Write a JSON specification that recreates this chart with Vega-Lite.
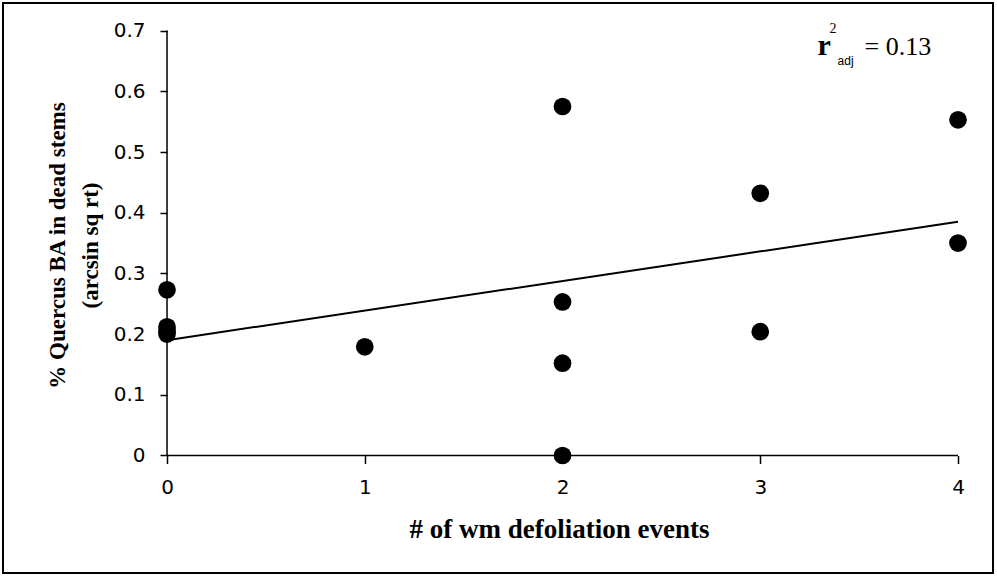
{
  "$schema": "https://vega.github.io/schema/vega-lite/v6.json",
  "width": 990,
  "height": 570,
  "padding": 3,
  "autosize": {"type": "none"},
  "background": "white",
  "config": {
    "view": {"stroke": "black", "strokeWidth": 2},
    "axis": {"grid": false, "domain": false, "tickColor": "black", "tickWidth": 1.5, "labelColor": "black", "titleColor": "black", "labelOverlap": false, "labelFlush": false}
  },
  "datasets": {
    "plots": [
      {"events": 0, "value": 0.273},
      {"events": 0, "value": 0.212},
      {"events": 0, "value": 0.205},
      {"events": 0, "value": 0.2},
      {"events": 1, "value": 0.179},
      {"events": 2, "value": 0.575},
      {"events": 2, "value": 0.253},
      {"events": 2, "value": 0.152},
      {"events": 2, "value": 0.0},
      {"events": 3, "value": 0.432},
      {"events": 3, "value": 0.204},
      {"events": 4, "value": 0.553},
      {"events": 4, "value": 0.35}
    ],
    "fit": [
      {"events": 0, "value": 0.19},
      {"events": 4, "value": 0.385}
    ],
    "axes": [
      {"events": 0, "events_end": 4, "value": 0, "value_end": 0},
      {"events": 0, "events_end": 0, "value": 0, "value_end": 0.7}
    ],
    "note": [
      {"events": 3.3, "value": 0.66, "r2": "= 0.13"}
    ]
  },
  "encoding": {
    "x": {
      "field": "events",
      "type": "quantitative",
      "scale": {"domain": [-0.8295, 4.177], "nice": false, "zero": false},
      "axis": {
        "title": "# of wm defoliation events",
        "values": [0, 1, 2, 3, 4],
        "format": "d",
        "offset": -117.5,
        "tickSize": 8,
        "labelFont": "DejaVu Sans",
        "labelFontSize": 20,
        "labelPadding": 14,
        "titleFont": "Liberation Serif",
        "titleFontSize": 27,
        "titleFontWeight": "bold",
        "titleX": 556,
        "titleY": 81.5,
        "titleAlign": "center",
        "titleBaseline": "alphabetic"
      }
    },
    "y": {
      "field": "value",
      "type": "quantitative",
      "scale": {"domain": [-0.1936, 0.7455], "nice": false, "zero": false},
      "axis": {
        "title": ["% Quercus BA in dead stems", "(arcsin sq rt)"],
        "values": [0, 0.1, 0.2, 0.3, 0.4, 0.5, 0.6, 0.7],
        "format": ".1~f",
        "offset": -164,
        "tickSize": 7,
        "labelFont": "DejaVu Sans",
        "labelFontSize": 20,
        "labelPadding": 15,
        "titleFont": "Liberation Serif",
        "titleFontSize": 23,
        "titleFontWeight": "bold",
        "titleLineHeight": 33,
        "titleX": -103,
        "titleY": 242,
        "titleAngle": 270,
        "titleAlign": "center",
        "titleBaseline": "alphabetic"
      }
    }
  },
  "layer": [
    {
      "data": {"name": "axes"},
      "mark": {"type": "rule", "color": "black", "strokeWidth": 1.5},
      "encoding": {
        "x2": {"field": "events_end"},
        "y2": {"field": "value_end"}
      }
    },
    {
      "data": {"name": "fit"},
      "mark": {"type": "line", "color": "black", "strokeWidth": 2}
    },
    {
      "data": {"name": "plots"},
      "mark": {"type": "circle", "size": 314, "color": "black", "opacity": 1}
    },
    {
      "data": {"name": "note"},
      "mark": {"type": "text", "text": "r", "font": "Liberation Serif", "fontWeight": "bold", "fontSize": 30, "align": "left", "baseline": "alphabetic", "dx": -2, "dy": 0, "color": "black"}
    },
    {
      "data": {"name": "note"},
      "mark": {"type": "text", "text": "2", "font": "Liberation Serif", "fontSize": 14, "align": "left", "baseline": "alphabetic", "dx": 10, "dy": -22, "color": "black"}
    },
    {
      "data": {"name": "note"},
      "mark": {"type": "text", "text": "adj", "font": "Liberation Sans", "fontSize": 12, "align": "left", "baseline": "alphabetic", "dx": 18, "dy": 10, "color": "black"}
    },
    {
      "data": {"name": "note"},
      "mark": {"type": "text", "font": "Liberation Serif", "fontSize": 26, "align": "left", "baseline": "alphabetic", "dx": 45, "dy": 0, "color": "black"},
      "encoding": {
        "text": {"field": "r2", "type": "nominal"}
      }
    }
  ]
}
